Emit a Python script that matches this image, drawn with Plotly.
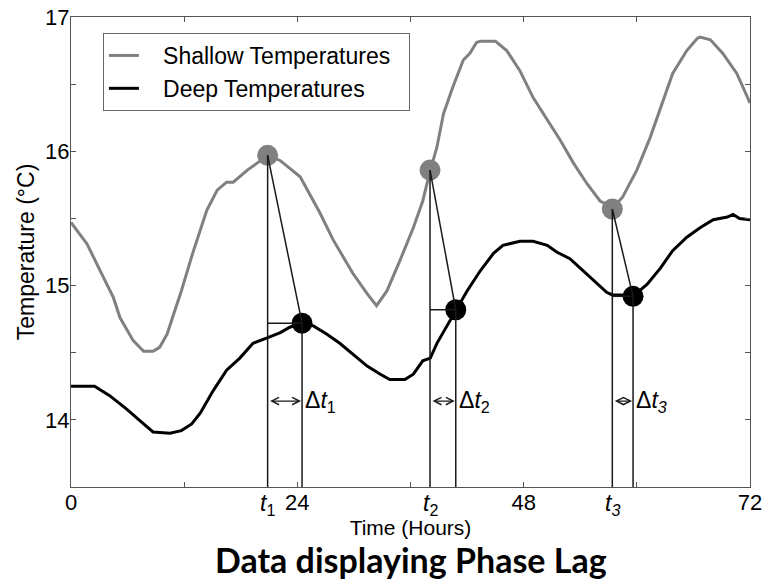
import plotly.graph_objects as go

# ---- data ----
shallow_hours = [0, 1.7, 3.1, 4.5, 5.2, 6.6, 7.7, 8.7, 9.4, 10.2, 10.9, 11.7, 12.9, 14.4, 15.5,
                 16.5, 17.2, 18.7, 19.7, 20.9, 22.2, 24.3, 26.4, 27.8, 29.9, 31.4, 32.4, 33.5,
                 34.9, 36.3, 37.3, 38.1, 38.8, 39.5, 40.5, 41.6, 42.3, 43.0, 43.4, 45.0, 46.2,
                 47.6, 49.0, 50.5, 51.9, 53.3, 54.7, 56.1, 57.5, 58.5, 60.0, 61.4, 62.8, 63.8,
                 65.3, 66.4, 66.7, 67.8, 69.1, 70.6, 72.0]
shallow_temp = [15.47, 15.31, 15.11, 14.91, 14.76, 14.59, 14.51, 14.51, 14.54, 14.64, 14.79,
                14.96, 15.24, 15.56, 15.71, 15.77, 15.77, 15.86, 15.91, 15.97, 15.93, 15.81,
                15.54, 15.34, 15.09, 14.94, 14.85, 14.96, 15.19, 15.43, 15.63, 15.86, 16.03,
                16.28, 16.48, 16.68, 16.73, 16.81, 16.82, 16.82, 16.75, 16.60, 16.40, 16.23,
                16.08, 15.91, 15.76, 15.63, 15.58, 15.66, 15.86, 16.10, 16.38, 16.58, 16.75,
                16.84, 16.85, 16.83, 16.73, 16.58, 16.36]

deep_hours = [0, 2.5, 4.1, 5.9, 7.7, 8.7, 10.5, 11.7, 12.8, 13.7, 15.1, 16.5, 17.9, 19.3, 20.8,
              22.2, 23.2, 24.5, 25.7, 27.1, 28.5, 29.9, 31.4, 32.8, 33.8, 35.4, 36.3, 37.3,
              38.1, 38.8, 39.8, 40.8, 42.0, 43.4, 44.8, 45.8, 47.6, 49.0, 50.5, 51.5, 52.9,
              54.0, 55.4, 56.8, 57.4, 59.0, 59.6, 61.1, 62.5, 63.8, 65.3, 66.7, 68.1, 69.6,
              70.2, 70.9, 72.0]
deep_temp = [14.25, 14.25, 14.18, 14.08, 13.97, 13.91, 13.90, 13.92, 13.97, 14.05, 14.22, 14.37,
             14.46, 14.57, 14.61, 14.65, 14.69, 14.72, 14.70, 14.64, 14.57, 14.49, 14.40, 14.34,
             14.30, 14.30, 14.34, 14.44, 14.46, 14.57, 14.69, 14.82, 14.96, 15.11, 15.24, 15.30,
             15.33, 15.33, 15.30, 15.25, 15.20, 15.13, 15.04, 14.95, 14.93, 14.93, 14.92, 15.01,
             15.13, 15.26, 15.36, 15.43, 15.49, 15.51, 15.53, 15.50, 15.49]

# phase-lag marker points
shallow_pts_x = [20.85, 38.07, 57.4]
shallow_pts_y = [15.97, 15.86, 15.57]
deep_pts_x = [24.5, 40.8, 59.6]
deep_pts_y = [14.72, 14.82, 14.92]
lag_names = ["1", "2", "<i>3</i>"]
arrow_level = 14.14

x_ticks = [0, 12, 24, 36, 48, 60, 72]
x_tick_labels = ["0", "", "24", "", "48", "", "72"]
y_ticks = [13.5, 14, 14.5, 15, 15.5, 16, 16.5, 17]
y_tick_labels = ["", "14", "", "15", "", "16", "", "17"]

Y_MIN, Y_MAX = 13.5, 17
GRAY = "#808080"
LINE = "#1a1a1a"
NB = "\u00a0"

fig = go.Figure()
fig.add_trace(go.Scatter(x=shallow_hours, y=shallow_temp, mode="lines",
                         name=NB * 3 + "Shallow Temperatures" + NB * 2,
                         line=dict(color=GRAY, width=3)))
fig.add_trace(go.Scatter(x=deep_hours, y=deep_temp, mode="lines",
                         name=NB * 3 + "Deep Temperatures",
                         line=dict(color="black", width=3)))

shapes = []
annotations = []
for i in range(3):
    sx, sy = shallow_pts_x[i], shallow_pts_y[i]
    dx, dy = deep_pts_x[i], deep_pts_y[i]
    ln = dict(color=LINE, width=1.5)
    shapes.append(dict(type="line", xref="x", yref="y", x0=sx, x1=sx, y0=sy, y1=Y_MIN, line=ln))
    shapes.append(dict(type="line", xref="x", yref="y", x0=dx, x1=dx, y0=dy, y1=Y_MIN, line=ln))
    shapes.append(dict(type="line", xref="x", yref="y", x0=sx, x1=dx, y0=dy, y1=dy, line=ln))
    shapes.append(dict(type="line", xref="x", yref="y", x0=sx, x1=dx, y0=sy, y1=dy, line=ln))
    annotations.append(dict(x=dx, y=arrow_level, ax=sx, ay=arrow_level, xref="x", yref="y",
                            axref="x", ayref="y", text="", showarrow=True, arrowside="end+start",
                            arrowhead=5, arrowsize=1.2, arrowwidth=1.2, arrowcolor=LINE,
                            startarrowhead=5, startarrowsize=1.2, standoff=1, startstandoff=1))
    annotations.append(dict(x=dx, y=arrow_level, xref="x", yref="y", xanchor="left", yanchor="middle",
                            xshift=1, showarrow=False,
                            text="Δ<i>t</i><sub>" + lag_names[i] + "</sub>",
                            font=dict(family="Liberation Sans, Arial", size=23, color="black")))
    annotations.append(dict(x=sx, y=0, xref="x", yref="paper", yanchor="top", yshift=-1,
                            showarrow=False, text="<i>t</i><sub>" + lag_names[i] + "</sub>",
                            font=dict(family="Liberation Sans, Arial", size=23, color="black")))

annotations.append(dict(x=0.5, y=-0.155, xref="paper", yref="paper", xanchor="center", yanchor="middle",
                        showarrow=False, text="<b>Data displaying Phase Lag</b>",
                        font=dict(family="Lato, Open Sans", size=34, color="black")))

fig.add_trace(go.Scatter(x=shallow_pts_x, y=shallow_pts_y, mode="markers", showlegend=False,
                         marker=dict(color=GRAY, size=21)))
fig.add_trace(go.Scatter(x=deep_pts_x, y=deep_pts_y, mode="markers", showlegend=False,
                         marker=dict(color="black", size=21)))

fig.update_layout(
    width=766, height=580,
    margin=dict(l=71, r=16, t=17, b=93, autoexpand=False),
    paper_bgcolor="white", plot_bgcolor="white",
    font=dict(family="Liberation Sans, Arial", color="black"),
    shapes=shapes, annotations=annotations,
    showlegend=True,
    legend=dict(x=0.047, y=0.966, xanchor="left", yanchor="top",
                bordercolor="#666666", borderwidth=1, bgcolor="white",
                font=dict(size=23, color="black"), itemwidth=30, tracegroupgap=0),
    xaxis=dict(range=[0, 72], tickvals=x_ticks, ticktext=x_tick_labels, ticks="inside", ticklen=5,
               tickcolor="#555555", showline=True, linecolor="#555555", linewidth=1, mirror="ticks",
               showgrid=False, zeroline=False, tickfont=dict(size=22), automargin=False,
               ticklabelstandoff=-4, ticklabeloverflow="allow",
               title=dict(text="Time (Hours)", font=dict(size=21), standoff=5)),
    yaxis=dict(range=[Y_MIN, Y_MAX], tickvals=y_ticks, ticktext=y_tick_labels, ticks="inside",
               ticklen=5, tickcolor="#555555", showline=True, linecolor="#555555", linewidth=1,
               mirror="ticks", showgrid=False, zeroline=False, tickfont=dict(size=22), automargin=False,
               ticklabelstandoff=-4, ticklabeloverflow="allow",
               title=dict(text="Temperature (°C)" + NB * 2, font=dict(size=23), standoff=4)),
)

fig.write_html("out.html", config={"displayModeBar": False},
               post_script="document.body.style.margin='0';document.body.style.overflow='hidden';")
